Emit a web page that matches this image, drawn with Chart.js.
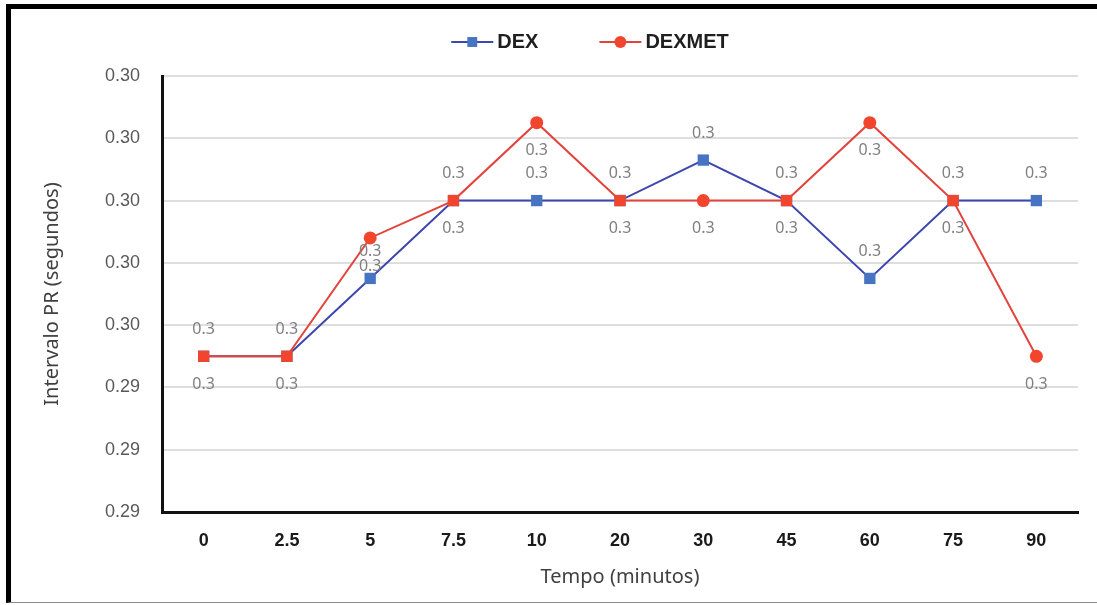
<!DOCTYPE html>
<html>
<head>
<meta charset="utf-8">
<title>Intervalo PR</title>
<script src="https://cdn.jsdelivr.net/npm/chart.js@4.4.1/dist/chart.umd.min.js"></script>
<style>
  html, body { margin: 0; padding: 0; background: #fff; }
  #wrap { position: relative; width: 1097px; height: 605px; overflow: hidden; }
  #frame {
    position: absolute; left: 6px; top: 4px; right: -10px; bottom: 2px;
    border-top: 5px solid #000; border-left: 5px solid #000; border-bottom: 1px solid #8c8c8c;
    pointer-events: none;
  }
  canvas { position: absolute; left: 0; top: 0; }
</style>
</head>
<body>
<div id="wrap">
  <canvas id="prChart" width="1097" height="605"></canvas>
  <div id="frame"></div>
</div>
<script>
// Tempo de coleta (minutos)
const categories = ['0', '2.5', '5', '7.5', '10', '20', '30', '45', '60', '75', '90'];

// Intervalo PR médio (segundos)
const dexValues    = [0.2945, 0.2945, 0.29575, 0.297, 0.297, 0.297, 0.29765, 0.297, 0.29575, 0.297, 0.297];
const dexmetValues = [0.2945, 0.2945, 0.2964, 0.297, 0.29825, 0.297, 0.297, 0.297, 0.29825, 0.297, 0.2945];

// Eixo Y
const yMin = 0.292;
const yMax = 0.299;
const yStep = 0.001;

const DEX_LINE = '#3c46ad';
const DEX_POINT = '#4674c2';
const DEXMET_LINE = '#e2433d';
const DEXMET_POINT = '#f2452d';

// rótulos "0.3" em cima (DEX) ou embaixo (DEXMET) de cada ponto
const pointLabels = {
    id: 'pointLabels',
    afterDatasetsDraw(chart) {
        const ctx = chart.ctx;
        ctx.save();
        ctx.font = '16px "Noto Sans"';
        ctx.fillStyle = '#808080';
        ctx.textAlign = 'center';
        ctx.textBaseline = 'middle';
        chart.data.datasets.forEach((ds, i) => {
            const meta = chart.getDatasetMeta(i);
            meta.data.forEach((pt, j) => {
                ctx.fillText(ds.data[j].toFixed(1), pt.x, pt.y + ds.labelShift);
            });
        });
        ctx.restore();
    }
};

// legenda no estilo linha + marcador
const lineLegend = {
    id: 'lineLegend',
    afterDraw(chart) {
        const { ctx, chartArea } = chart;
        const iconW = 42, gap = 4, itemGap = 61;
        ctx.save();
        ctx.font = 'bold 20px "Liberation Sans"';
        const items = chart.data.datasets.map(ds => ({ ds, w: iconW + gap + ctx.measureText(ds.label).width }));
        const total = items.reduce((s, it) => s + it.w, 0) + itemGap * (items.length - 1);
        let x = (chartArea.left + chartArea.right) / 2 - 30 - total / 2;
        const y = 42;
        items.forEach(({ ds, w }) => {
            ctx.strokeStyle = ds.borderColor;
            ctx.lineWidth = 2;
            ctx.beginPath();
            ctx.moveTo(x, y);
            ctx.lineTo(x + iconW, y);
            ctx.stroke();
            ctx.fillStyle = ds.legendPoint;
            Chart.helpers.drawPoint(ctx, { pointStyle: ds.legendStyle, radius: ds.legendRadius, borderWidth: 0, rotation: 0 }, x + iconW / 2, y);
            ctx.fillStyle = '#1f1f1f';
            ctx.textAlign = 'left';
            ctx.textBaseline = 'middle';
            ctx.fillText(ds.label, x + iconW + gap, y);
            x += w + itemGap;
        });
        ctx.restore();
    }
};

const ctx = document.getElementById('prChart').getContext('2d');
new Chart(ctx, {
    type: 'line',
    data: {
        labels: categories,
        datasets: [
            {
                label: 'DEX',
                data: dexValues,
                borderColor: DEX_LINE,
                backgroundColor: DEX_POINT,
                borderWidth: 2,
                pointStyle: 'rect',
                pointRadius: 8,
                pointBackgroundColor: DEX_POINT,
                pointBorderWidth: 0,
                order: 2,
                labelShift: -27,
                legendPoint: DEX_POINT,
                legendStyle: 'rect',
                legendRadius: 7
            },
            {
                label: 'DEXMET',
                data: dexmetValues,
                borderColor: DEXMET_LINE,
                backgroundColor: DEXMET_POINT,
                borderWidth: 2,
                // onde coincide com DEX o marcador fica quadrado
                pointStyle: c => (dexValues[c.dataIndex] === dexmetValues[c.dataIndex] ? 'rect' : 'circle'),
                pointRadius: c => (dexValues[c.dataIndex] === dexmetValues[c.dataIndex] ? 8 : 6.5),
                pointBackgroundColor: DEXMET_POINT,
                pointBorderWidth: 0,
                order: 1,
                labelShift: 28,
                legendPoint: DEXMET_POINT,
                legendStyle: 'circle',
                legendRadius: 6
            }
        ]
    },
    options: {
        responsive: false,
        animation: false,
        layout: { padding: { top: 76, left: 38, right: 19, bottom: 12 } },
        plugins: {
            legend: { display: false },
            tooltip: { enabled: false }
        },
        scales: {
            x: {
                offset: true,
                grid: { display: true, color: 'rgba(0,0,0,0)', drawTicks: false },
                border: { color: '#111', width: 3 },
                ticks: {
                    padding: 18,
                    color: '#1a1a1a',
                    font: { family: '"Liberation Sans"', size: 18, weight: 'bold' }
                },
                title: {
                    display: true,
                    text: 'Tempo (minutos)',
                    color: '#404040',
                    font: { family: '"Noto Sans"', size: 20 },
                    padding: { top: 4, bottom: 4 }
                },
                afterFit: scale => { scale.height = 81; }
            },
            y: {
                min: yMin,
                max: yMax,
                grid: { color: '#dedede', lineWidth: 2, drawTicks: false },
                border: { color: '#111', width: 3 },
                ticks: {
                    stepSize: yStep,
                    padding: 22,
                    color: '#595959',
                    font: { family: '"Liberation Sans"', size: 18 },
                    callback: v => (Math.round(Math.round(v * 1000) / 10) / 100).toFixed(2)
                },
                title: {
                    display: true,
                    text: 'Intervalo PR (segundos)',
                    color: '#404040',
                    font: { family: '"Noto Sans"', size: 20 },
                    padding: { top: 2, bottom: 2 }
                },
                afterFit: scale => { scale.width = 124; }
            }
        }
    },
    plugins: [pointLabels, lineLegend]
});
</script>
</body>
</html>
